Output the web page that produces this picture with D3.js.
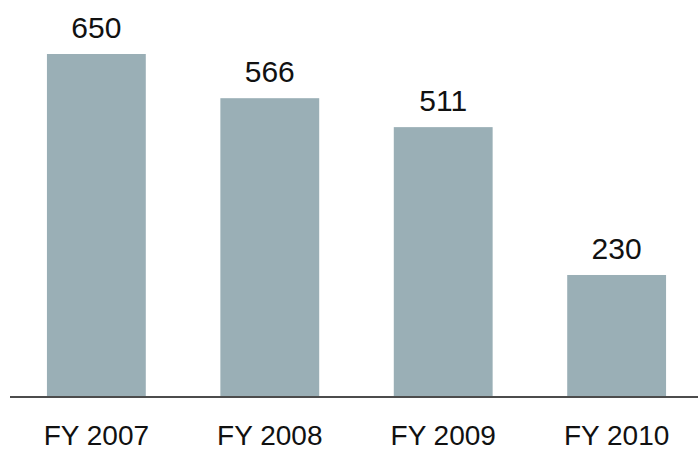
<!DOCTYPE html>
<html>
<head>
<meta charset="utf-8">
<script src="https://cdn.jsdelivr.net/npm/d3@7"></script>
<style>
  body { margin: 0; background: #fff; }
  text { font-family: "Liberation Sans", Arial, sans-serif; fill: #111; }
</style>
</head>
<body>
<div id="chart"></div>
<script>
// data
var years = ["FY 2007", "FY 2008", "FY 2009", "FY 2010"];
var values = [650, 566, 511, 230];

var width = 698,
    height = 451,
    baseline = 396;

var svg = d3.select("#chart").append("svg")
    .attr("width", width)
    .attr("height", height);

var xScale = d3.scaleBand()
    .domain(years)
    .range([10, 703])
    .paddingInner(0.43)
    .paddingOuter(0.213);

var yScale = d3.scaleLinear()
    .domain([0, 650])
    .range([baseline, 54]);

var data = years.map(function(d, i) { return {year: d, value: values[i]}; });

svg.selectAll(".bar")
    .data(data)
  .enter().append("rect")
    .attr("class", "bar")
    .attr("x", function(d) { return xScale(d.year); })
    .attr("y", function(d) { return yScale(d.value); })
    .attr("width", xScale.bandwidth())
    .attr("height", function(d) { return baseline - yScale(d.value); })
    .attr("fill", "#9aafb6");

// value labels
svg.selectAll(".val")
    .data(data)
  .enter().append("text")
    .attr("class", "val")
    .attr("x", function(d) { return xScale(d.year) + xScale.bandwidth() / 2; })
    .attr("y", function(d) { return yScale(d.value) - 16; })
    .attr("text-anchor", "middle")
    .attr("font-size", "30px")
    .text(function(d) { return d.value; });

// baseline
svg.append("line")
    .attr("x1", 10).attr("x2", width)
    .attr("y1", baseline + 1).attr("y2", baseline + 1)
    .attr("stroke", "#111")
    .attr("stroke-width", 1.5);

// category labels
svg.selectAll(".cat")
    .data(years)
  .enter().append("text")
    .attr("class", "cat")
    .attr("x", function(d) { return xScale(d) + xScale.bandwidth() / 2; })
    .attr("y", 445)
    .attr("text-anchor", "middle")
    .attr("font-size", "28px")
    .text(function(d) { return d; });
</script>
</body>
</html>
